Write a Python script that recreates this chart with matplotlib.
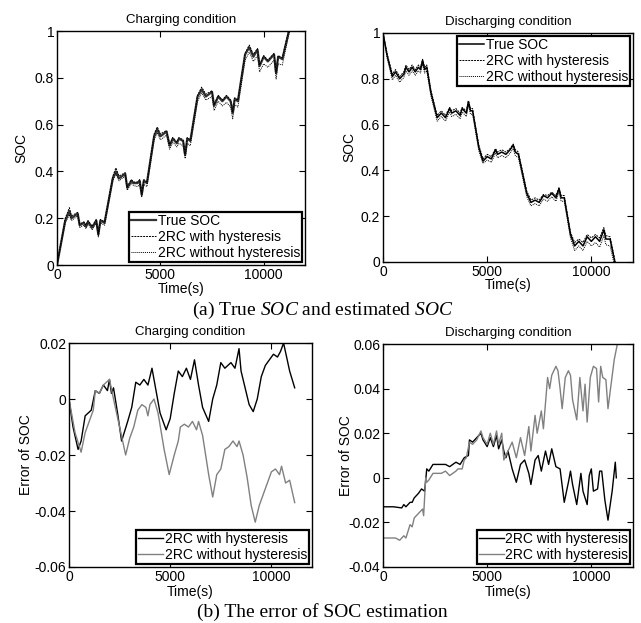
import matplotlib
matplotlib.use("Agg")
import matplotlib.pyplot as plt

plt.rcParams["font.family"] = ["Liberation Sans", "DejaVu Sans"]
plt.rcParams["mathtext.fontset"] = "custom"
plt.rcParams["mathtext.rm"] = "Liberation Serif"
plt.rcParams["mathtext.it"] = "Liberation Serif:italic"

# ── Data: (a) true and estimated SOC ─────────────────────────────────────────
t_chg = [0, 400, 600, 700, 1000, 1100, 1300, 1400, 1500, 1700, 1900, 2000, 2100, 2300,
         2700, 2850, 3000, 3300, 3400, 3600, 3700, 3900, 4000, 4100, 4200, 4350, 4700,
         4850, 5000, 5300, 5450, 5600, 5800, 5900, 6100, 6200, 6300, 6450, 6800, 7000,
         7200, 7500, 7600, 7800, 8000, 8200, 8400, 8500, 8600, 8750, 9100, 9300, 9500,
         9700, 9800, 10000, 10200, 10500, 10600, 10700, 10900, 11250]
soc_chg_true = [0.0, 0.19, 0.23, 0.20, 0.22, 0.17, 0.18, 0.165, 0.185, 0.16, 0.19, 0.13,
                0.19, 0.18, 0.37, 0.40, 0.37, 0.39, 0.33, 0.36, 0.35, 0.35, 0.36, 0.30,
                0.36, 0.35, 0.55, 0.58, 0.55, 0.57, 0.51, 0.54, 0.52, 0.54, 0.53, 0.47,
                0.54, 0.53, 0.72, 0.75, 0.72, 0.74, 0.68, 0.72, 0.70, 0.72, 0.70, 0.65,
                0.71, 0.70, 0.90, 0.93, 0.89, 0.92, 0.85, 0.89, 0.87, 0.90, 0.82, 0.89,
                0.88, 1.01]
soc_chg_hyst = [0.0, 0.20, 0.245, 0.21, 0.225, 0.175, 0.185, 0.17, 0.19, 0.165, 0.195, 0.135,
                0.195, 0.185, 0.38, 0.415, 0.38, 0.395, 0.335, 0.365, 0.355, 0.355, 0.365,
                0.305, 0.365, 0.355, 0.56, 0.59, 0.56, 0.575, 0.515, 0.545, 0.525, 0.545,
                0.535, 0.475, 0.545, 0.535, 0.725, 0.76, 0.73, 0.745, 0.685, 0.725, 0.705,
                0.725, 0.705, 0.655, 0.715, 0.705, 0.905, 0.94, 0.90, 0.925, 0.855, 0.895,
                0.875, 0.905, 0.825, 0.895, 0.885, 1.02]
soc_chg_nohyst = [0.0, 0.18, 0.215, 0.19, 0.21, 0.16, 0.17, 0.155, 0.175, 0.15, 0.18, 0.12,
                  0.18, 0.17, 0.36, 0.39, 0.36, 0.38, 0.32, 0.35, 0.34, 0.335, 0.345, 0.29,
                  0.345, 0.335, 0.535, 0.565, 0.535, 0.555, 0.495, 0.525, 0.505, 0.52, 0.51,
                  0.455, 0.52, 0.51, 0.70, 0.735, 0.705, 0.72, 0.66, 0.70, 0.68, 0.695, 0.675,
                  0.625, 0.685, 0.675, 0.875, 0.91, 0.87, 0.895, 0.825, 0.86, 0.845, 0.875,
                  0.795, 0.86, 0.855, 1.0]

t_dis = [0, 200, 450, 600, 800, 1000, 1100, 1250, 1400, 1550, 1700, 1800, 1900, 2000, 2100,
         2300, 2600, 2800, 3000, 3200, 3300, 3500, 3700, 3800, 4000, 4100, 4200, 4300, 4600,
         4800, 5000, 5200, 5400, 5500, 5700, 5900, 6100, 6250, 6350, 6500, 6900, 7100, 7300,
         7500, 7700, 7900, 8100, 8300, 8450, 8550, 8700, 9000, 9200, 9400, 9600, 9800, 10000,
         10200, 10400, 10600, 10700, 10900, 11150]
soc_dis_true = [1.0, 0.90, 0.81, 0.83, 0.80, 0.82, 0.85, 0.83, 0.85, 0.83, 0.85, 0.84, 0.88,
                0.84, 0.85, 0.74, 0.63, 0.65, 0.63, 0.67, 0.65, 0.66, 0.64, 0.67, 0.65, 0.70,
                0.66, 0.66, 0.50, 0.44, 0.46, 0.45, 0.49, 0.47, 0.48, 0.47, 0.49, 0.51, 0.48,
                0.47, 0.30, 0.26, 0.27, 0.26, 0.29, 0.28, 0.30, 0.28, 0.32, 0.28, 0.28, 0.12,
                0.07, 0.09, 0.07, 0.11, 0.09, 0.11, 0.09, 0.14, 0.10, 0.10, -0.01]
soc_dis_hyst = [1.0, 0.91, 0.82, 0.84, 0.81, 0.83, 0.86, 0.84, 0.86, 0.84, 0.86, 0.85, 0.885,
                0.85, 0.86, 0.75, 0.64, 0.66, 0.64, 0.675, 0.66, 0.67, 0.65, 0.675, 0.66,
                0.705, 0.67, 0.67, 0.51, 0.45, 0.47, 0.46, 0.495, 0.48, 0.49, 0.48, 0.495,
                0.515, 0.49, 0.48, 0.31, 0.27, 0.28, 0.27, 0.295, 0.29, 0.305, 0.29, 0.325,
                0.29, 0.29, 0.13, 0.085, 0.10, 0.085, 0.12, 0.105, 0.12, 0.105, 0.15, 0.115,
                0.11, 0.0]
soc_dis_nohyst = [1.0, 0.89, 0.795, 0.815, 0.785, 0.805, 0.835, 0.815, 0.835, 0.815, 0.835,
                  0.825, 0.865, 0.825, 0.835, 0.725, 0.615, 0.635, 0.615, 0.655, 0.635, 0.645,
                  0.625, 0.655, 0.635, 0.685, 0.645, 0.645, 0.485, 0.43, 0.445, 0.435, 0.475,
                  0.455, 0.465, 0.455, 0.475, 0.495, 0.465, 0.455, 0.285, 0.245, 0.255, 0.245,
                  0.275, 0.265, 0.285, 0.265, 0.305, 0.265, 0.265, 0.105, 0.05, 0.07, 0.05,
                  0.09, 0.07, 0.085, 0.065, 0.115, 0.075, 0.07, -0.03]

# ── Data: (b) SOC estimation error ───────────────────────────────────────────
t_err_chg_h = [0, 200, 450, 600, 800, 1100, 1300, 1500, 1700, 1900, 2000, 2100, 2200, 2400,
               2600, 2900, 3100, 3300, 3500, 3700, 3900, 4100, 4300, 4500, 4800, 5000, 5200,
               5400, 5600, 5800, 6000, 6200, 6400, 6600, 6900, 7100, 7300, 7500, 7700, 8000,
               8200, 8400, 8500, 8700, 8900, 9100, 9300, 9500, 9700, 9900, 10100, 10300,
               10450, 10600, 10750, 10900, 11150]
err_chg_h = [0, -0.01, -0.018, -0.015, -0.006, -0.004, 0.003, 0.002, 0.005, 0.003, 0.007,
             0.002, 0.004, -0.005, -0.015, -0.008, -0.003, 0.006, 0.005, 0.007, 0.005, 0.011,
             0.003, -0.005, -0.011, -0.007, 0.002, 0.01, 0.008, 0.011, 0.007, 0.014, 0.005,
             -0.003, -0.008, 0.0, 0.005, 0.013, 0.011, 0.013, 0.011, 0.018, 0.01, 0.004,
             -0.002, -0.0045, 0.0, 0.008, 0.012, 0.014, 0.016, 0.015, 0.017, 0.02, 0.015,
             0.010, 0.004]
t_err_chg_n = [0, 300, 600, 800, 1000, 1200, 1300, 1500, 1700, 2000, 2200, 2500, 2800, 3000,
               3200, 3400, 3600, 3800, 3900, 4000, 4200, 4400, 4700, 4950, 5200, 5400, 5500,
               5700, 5900, 6100, 6300, 6400, 6600, 6900, 7100, 7300, 7500, 7700, 7900, 8100,
               8300, 8400, 8600, 8800, 9000, 9200, 9400, 9600, 9800, 10000, 10200, 10400,
               10500, 10700, 10900, 11150]
err_chg_n = [0, -0.012, -0.019, -0.012, -0.008, -0.004, 0.003, 0.002, 0.005, 0.007, 0.0,
             -0.01, -0.02, -0.014, -0.01, -0.004, -0.002, -0.003, -0.006, -0.002, 0.0, -0.005,
             -0.018, -0.027, -0.02, -0.015, -0.01, -0.009, -0.01, -0.008, -0.011, -0.008,
             -0.013, -0.027, -0.035, -0.027, -0.025, -0.018, -0.017, -0.015, -0.017, -0.015,
             -0.02, -0.028, -0.038, -0.044, -0.038, -0.034, -0.03, -0.026, -0.025, -0.027,
             -0.024, -0.03, -0.029, -0.037]

t_err_dis_h = [0, 500, 900, 1000, 1100, 1300, 1400, 1500, 1700, 1850, 2000, 2100, 2200, 2400,
               2800, 3000, 3200, 3500, 3700, 3900, 4100, 4150, 4300, 4500, 4700, 4800, 5000,
               5150, 5300, 5450, 5550, 5700, 5800, 5900, 6000, 6200, 6400, 6600, 6800, 7000,
               7100, 7300, 7450, 7600, 7800, 7950, 8100, 8300, 8500, 8700, 8900, 9000, 9100,
               9300, 9500, 9600, 9800, 9900, 10000, 10100, 10300, 10400, 10500, 10650, 10800,
               11000, 11150, 11200]
err_dis_h = [-0.013, -0.013, -0.0135, -0.012, -0.013, -0.011, -0.011, -0.009, -0.007, -0.005,
             -0.006, 0.004, 0.003, 0.006, 0.006, 0.006, 0.005, 0.007, 0.006, 0.009, 0.010,
             0.017, 0.016, 0.018, 0.020, 0.017, 0.014, 0.018, 0.014, 0.019, 0.013, 0.017,
             0.012, 0.009, 0.012, 0.004, -0.002, 0.006, 0.008, 0.002, -0.003, 0.008, 0.010,
             0.003, 0.012, 0.006, 0.013, 0.005, 0.004, -0.011, -0.002, 0.003, -0.003, -0.012,
             0.002, -0.006, -0.012, 0.001, 0.004, -0.006, -0.005, 0.003, 0.003, -0.010,
             -0.019, -0.006, 0.007, 0.0]
t_err_dis_n = [0, 600, 800, 1000, 1100, 1300, 1400, 1500, 1700, 1800, 1900, 1950, 2050, 2100,
               2200, 2400, 2800, 3000, 3200, 3500, 3600, 3800, 3900, 4000, 4150, 4300, 4500,
               4700, 4800, 5000, 5150, 5300, 5450, 5550, 5700, 5800, 6000, 6200, 6400, 6600,
               6800, 7000, 7100, 7300, 7400, 7600, 7700, 7900, 8000, 8100, 8300, 8400, 8500,
               8600, 8750, 8900, 9000, 9100, 9300, 9450, 9600, 9700, 9800, 9950, 10100, 10250,
               10350, 10450, 10550, 10700, 10800, 10950, 11100, 11250]
err_dis_n = [-0.027, -0.027, -0.028, -0.026, -0.027, -0.021, -0.022, -0.018, -0.016, -0.015,
             -0.014, -0.017, 0.0, -0.002, -0.001, 0.002, 0.002, 0.003, 0.001, 0.003, 0.004,
             0.004, 0.008, 0.009, 0.016, 0.015, 0.017, 0.021, 0.018, 0.015, 0.020, 0.015,
             0.021, 0.015, 0.020, 0.008, 0.012, 0.016, 0.009, 0.018, 0.010, 0.023, 0.012,
             0.028, 0.020, 0.030, 0.022, 0.045, 0.040, 0.046, 0.050, 0.048, 0.040, 0.031,
             0.045, 0.048, 0.046, 0.035, 0.026, 0.045, 0.030, 0.042, 0.025, 0.045, 0.050,
             0.049, 0.034, 0.050, 0.045, 0.044, 0.031, 0.042, 0.053, 0.060]

x_ticks = [0, 5000, 10000]
soc_ticks = [0, 0.2, 0.4, 0.6, 0.8, 1]
soc_ticklabels = ["0", "0.2", "0.4", "0.6", "0.8", "1"]
err_chg_ticks = [-0.06, -0.04, -0.02, 0, 0.02]
err_chg_ticklabels = ["-0.06", "-0.04", "-0.02", "0", "0.02"]
err_dis_ticks = [-0.04, -0.02, 0, 0.02, 0.04, 0.06]
err_dis_ticklabels = ["-0.04", "-0.02", "0", "0.02", "0.04", "0.06"]

FS = 10

fig = plt.figure(figsize=(6.41, 6.23), dpi=100)

ax_tl = fig.add_axes([0.0889, 0.5746, 0.387, 0.3756])
ax_tr = fig.add_axes([0.5975, 0.5795, 0.390, 0.3676])
ax_bl = fig.add_axes([0.1076, 0.0899, 0.379, 0.3595])
ax_br = fig.add_axes([0.5975, 0.0899, 0.390, 0.3579])


def style_axes(ax, title, ylabel, yticks, yticklabels, ylim, ylab_x, xlab_y):
    ax.set_xlim(0, 12000)
    ax.set_ylim(*ylim)
    ax.set_xticks(x_ticks)
    ax.set_xticklabels([str(v) for v in x_ticks], fontsize=FS)
    ax.set_yticks(yticks)
    ax.set_yticklabels(yticklabels, fontsize=FS)
    ax.tick_params(direction="in", top=True, right=True, length=4, width=0.8, pad=2)
    for sp in ax.spines.values():
        sp.set_linewidth(1.0)
    ax.set_title(title, fontsize=9.5, pad=6)
    ax.set_xlabel("Time(s)", fontsize=FS)
    ax.set_ylabel(ylabel, fontsize=FS)
    ax.yaxis.set_label_coords(ylab_x, 0.5)
    ax.xaxis.set_label_coords(0.5, xlab_y)


def boxed_legend(ax, loc):
    leg = ax.legend(loc=loc, fontsize=FS, fancybox=False, framealpha=1,
                    edgecolor="black", borderpad=0.15, borderaxespad=0.2,
                    handlelength=1.8, handletextpad=0.1, labelspacing=0.15)
    leg.get_frame().set_linewidth(1.6)
    return leg


# ── (a) Charging SOC ─────────────────────────────────────────────────────────
ax_tl.plot(t_chg, soc_chg_true, color="0.2", lw=1.6, label="True SOC")
ax_tl.plot(t_chg, soc_chg_hyst, color="black", lw=0.7, ls=(0, (2, 1)),
           label="2RC with hysteresis")
ax_tl.plot(t_chg, soc_chg_nohyst, color="black", lw=0.7, ls=(0, (1, 1)),
           label="2RC without hysteresis")
style_axes(ax_tl, "Charging condition", "SOC", soc_ticks, soc_ticklabels, (0, 1),
           -0.117, -0.073)
boxed_legend(ax_tl, "lower right")

# ── (a) Discharging SOC ──────────────────────────────────────────────────────
ax_tr.plot(t_dis, soc_dis_true, color="black", lw=1.1, label="True SOC")
ax_tr.plot(t_dis, soc_dis_hyst, color="black", lw=0.7, ls=(0, (2, 1)),
           label="2RC with hysteresis")
ax_tr.plot(t_dis, soc_dis_nohyst, color="black", lw=0.7, ls=(0, (1, 1)),
           label="2RC without hysteresis")
style_axes(ax_tr, "Discharging condition", "SOC", soc_ticks, soc_ticklabels, (0, 1),
           -0.108, -0.07)
boxed_legend(ax_tr, "upper right")

# ── (b) Charging error ───────────────────────────────────────────────────────
ax_bl.plot(t_err_chg_h, err_chg_h, color="black", lw=1.0, label="2RC with hysteresis")
ax_bl.plot(t_err_chg_n, err_chg_n, color="0.5", lw=1.0, label="2RC without hysteresis")
style_axes(ax_bl, "Charging condition", "Error of SOC", err_chg_ticks, err_chg_ticklabels,
           (-0.06, 0.02), -0.148, -0.08)
boxed_legend(ax_bl, "lower right")

# ── (b) Discharging error (legend labels kept as printed) ────────────────────
ax_br.plot(t_err_dis_h, err_dis_h, color="black", lw=1.0, label="2RC with hysteresis")
ax_br.plot(t_err_dis_n, err_dis_n, color="0.5", lw=1.0, label="2RC with hysteresis")
style_axes(ax_br, "Discharging condition", "Error of SOC", err_dis_ticks, err_dis_ticklabels,
           (-0.04, 0.06), -0.12, -0.08)
boxed_legend(ax_br, "lower right")

# ── Captions ─────────────────────────────────────────────────────────────────
fig.text(0.503, 0.5024, r"(a) True $\mathit{SOC}$ and estimated $\mathit{SOC}$",
         ha="center", va="center", fontsize=14, family="Liberation Serif")
fig.text(0.503, 0.0177, "(b) The error of SOC estimation",
         ha="center", va="center", fontsize=14, family="Liberation Serif")

fig.savefig("out.png", dpi=100, facecolor="white")
